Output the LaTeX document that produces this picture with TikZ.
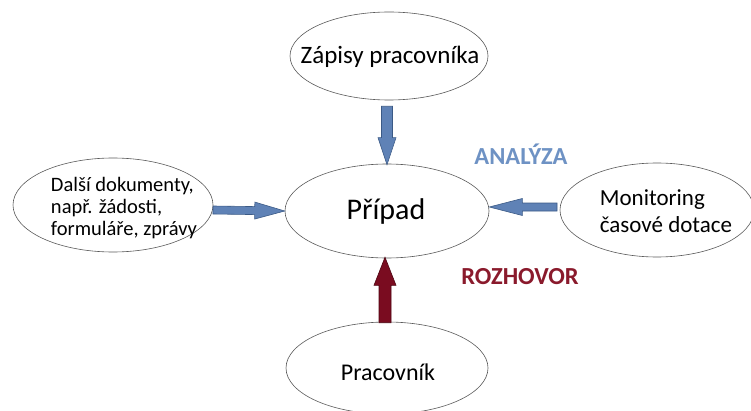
\documentclass[tikz,border=0pt]{standalone}
\usepackage{fontspec}
\setmainfont{Carlito}
\usetikzlibrary{shapes.geometric,calc}
\definecolor{arrblue}{HTML}{5F82B6}
\definecolor{arrblueline}{HTML}{3B5A86}
\definecolor{arrred}{HTML}{7A0C20}
\definecolor{arrredline}{HTML}{4E0612}
\definecolor{lblblue}{HTML}{6E92C4}
\definecolor{lblred}{HTML}{8A1A2C}
\newcommand\blockarr[6]{% from, to, shaft half, head half, head length, style
  \coordinate (c@) at ($(#2)!#5!(#1)$);
  \draw[#6] ($(#1)!#3!90:(#2)$) -- ($(c@)!#3!90:(#2)$) -- ($(c@)!#4!90:(#2)$) -- (#2)
    -- ($(c@)!#4!-90:(#2)$) -- ($(c@)!#3!-90:(#2)$) -- ($(#1)!#3!-90:(#2)$) -- cycle;}
\begin{document}
\begin{tikzpicture}[x=1pt,y=1pt,
  oval/.style={ellipse,draw=black!65,line width=0.6pt,inner sep=0pt},
  txt/.style={inner sep=0pt,align=left},
  bluearr/.style={fill=arrblue,draw=arrblueline,line width=0.6pt,line join=miter},
  redarr/.style={fill=arrred,draw=arrredline,line width=0.6pt,line join=miter},
  lbl/.style={font=\bfseries\fontsize{24.5}{28}\selectfont}]
\useasboundingbox (0,0) rectangle (751,410);
\node[oval,minimum width=198pt,minimum height=88pt] (zap) at (389,354) {};
\node[txt,font=\fontsize{25}{28}\selectfont] (zapt) at (390,353) {Zápisy pracovníka};
\node[oval,minimum width=204pt,minimum height=94pt] (pripad) at (387,199) {};
\node[txt,font=\fontsize{30}{34}\selectfont] (pripadt) at (386,198) {Případ};
\node[oval,minimum width=200pt,minimum height=94pt] (dalsi) at (113,205) {};
\node[txt,font=\fontsize{20.5}{22}\selectfont] (dalsit) at (124,202) {Další dokumenty,\\např. žádosti,\\formuláře, zprávy};
\node[oval,minimum width=194pt,minimum height=94pt] (mon) at (657,200) {};
\node[txt,font=\fontsize{23}{27.5}\selectfont] (mont) at (666,199) {Monitoring\\časové dotace};
\node[oval,minimum width=202pt,minimum height=92pt] (prac) at (387,42) {};
\node[txt,font=\fontsize{24}{28}\selectfont] (pract) at (388,38) {Pracovník};
\node[lbl,text=lblblue] (ana) at (521,256) {ANALÝZA};
\node[lbl,text=lblred] (roz) at (520,133) {ROZHOVOR};
\coordinate (ta) at ($(zap.south)+(-2,-6)$);
\coordinate (tb) at ($(pripad.north)+(0,-1)$);
\coordinate (la) at (213,200);
\coordinate (lb) at (pripad.west);
\coordinate (ra) at (557,203);
\coordinate (rb) at ($(pripad.east)+(0,4)$);
\coordinate (ba) at ($(prac.north)+(-2,-1)$);
\coordinate (bb) at ($(pripad.south)+(-2,1)$);
\blockarr{ta}{tb}{5.5pt}{9pt}{27pt}{bluearr}
\blockarr{la}{lb}{4pt}{8.5pt}{30pt}{bluearr}
\blockarr{ra}{rb}{4pt}{8.5pt}{33pt}{bluearr}
\blockarr{ba}{bb}{6pt}{11pt}{28pt}{redarr}
\end{tikzpicture}
\end{document}
